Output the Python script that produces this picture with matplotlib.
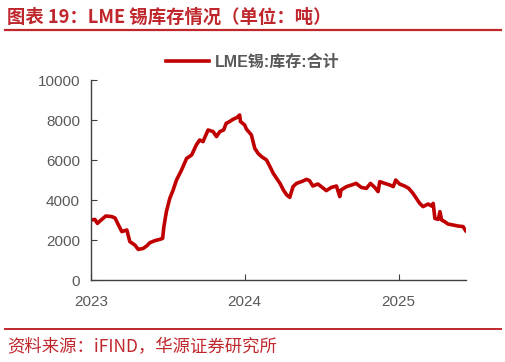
import numpy as np
import pandas as pd
import matplotlib
matplotlib.use("Agg")
import matplotlib.pyplot as plt
import matplotlib.dates as mdates

plt.rcParams['font.family'] = ['Liberation Sans', 'Noto Sans CJK SC', 'DejaVu Sans']

# LME 锡库存（吨），读自图片
fechas = [
    "2023-01-01", "2023-01-10", "2023-01-16", "2023-01-22", "2023-02-05", "2023-02-19",
    "2023-02-27", "2023-03-07", "2023-03-15", "2023-03-27", "2023-04-03", "2023-04-15",
    "2023-04-23", "2023-05-05", "2023-05-13", "2023-05-21", "2023-06-02", "2023-06-13",
    "2023-06-20", "2023-06-23", "2023-06-29", "2023-07-07", "2023-07-15", "2023-07-23",
    "2023-08-04", "2023-08-16", "2023-08-28", "2023-09-08", "2023-09-16", "2023-09-24",
    "2023-10-06", "2023-10-18", "2023-10-26", "2023-11-03", "2023-11-12", "2023-11-18",
    "2023-11-26", "2023-12-04", "2023-12-14", "2023-12-20", "2023-12-22", "2024-01-01",
    "2024-01-05", "2024-01-17", "2024-01-25", "2024-02-02", "2024-02-10", "2024-02-22",
    "2024-03-01", "2024-03-09", "2024-03-17", "2024-03-25", "2024-04-02", "2024-04-10",
    "2024-04-17", "2024-04-25", "2024-05-03", "2024-05-15", "2024-05-27", "2024-06-03",
    "2024-06-11", "2024-06-23", "2024-07-01", "2024-07-13", "2024-07-25", "2024-08-06",
    "2024-08-14", "2024-08-17", "2024-08-30", "2024-09-11", "2024-09-22", "2024-10-04",
    "2024-10-16", "2024-10-26", "2024-11-05", "2024-11-13", "2024-11-17", "2024-11-29",
    "2024-12-11", "2024-12-19", "2024-12-25", "2025-01-03", "2025-01-15", "2025-01-25",
    "2025-02-04", "2025-02-12", "2025-02-20", "2025-02-28", "2025-03-12", "2025-03-20",
    "2025-03-24", "2025-03-28", "2025-04-05", "2025-04-09", "2025-04-13", "2025-04-20",
    "2025-04-28", "2025-05-10", "2025-05-22", "2025-06-03", "2025-06-09",
]
inventario = [
    3000, 3030, 2830, 2950, 3200, 3170,
    3100, 2750, 2420, 2500, 1920, 1750,
    1530, 1580, 1700, 1870, 1970, 2030,
    2080, 2670, 3420, 4080, 4500, 5000,
    5500, 6080, 6250, 6750, 7000, 6920,
    7500, 7420, 7170, 7420, 7500, 7830,
    7920, 8030, 8130, 8250, 7920, 7750,
    7550, 7250, 6580, 6330, 6170, 6000,
    5670, 5330, 5080, 4830, 4500, 4250,
    4130, 4670, 4830, 4920, 5030, 4970,
    4700, 4800, 4670, 4470, 4630, 4700,
    4170, 4500, 4670, 4750, 4830, 4630,
    4580, 4830, 4630, 4420, 4920, 4830,
    4750, 4670, 5000, 4800, 4700, 4580,
    4330, 4080, 3830, 3670, 3800, 3700,
    3830, 3080, 3030, 3420, 3000, 2920,
    2800, 2750, 2700, 2670, 2470,
]
fechas = pd.to_datetime(fechas)

ROJO = "#c0272d"
GRIS = "#595959"

fig = plt.figure(figsize=(5.06, 3.62), dpi=100)
ax = fig.add_axes([0.18, 0.2265, 0.741, 0.5525])

ax.plot(fechas, inventario, color="#c00000", linewidth=2.6,
        solid_joinstyle="round", label="LME锡:库存:合计")

ax.set_ylim(0, 10000)
ax.set_yticks(range(0, 10001, 2000))
ax.set_xlim(pd.Timestamp("2023-01-01"), pd.Timestamp("2025-06-10"))
ax.set_xticks(pd.to_datetime(["2023-01-01", "2024-01-01", "2025-01-01"]))
ax.xaxis.set_major_formatter(mdates.DateFormatter("%Y"))

for lado in ["top", "right"]:
    ax.spines[lado].set_visible(False)
for lado in ["left", "bottom"]:
    ax.spines[lado].set_color("#404040")
    ax.spines[lado].set_linewidth(1.0)
ax.tick_params(axis="y", direction="in", length=4, pad=8, colors="#404040",
               labelcolor=GRIS, labelsize=11)
ax.tick_params(axis="x", direction="in", length=4, pad=11, colors="#404040",
               labelcolor=GRIS, labelsize=11)

leg = fig.legend(loc="center left", bbox_to_anchor=(0.328, 0.829), frameon=False,
                 handlelength=2.7, handletextpad=0.35, borderpad=0, borderaxespad=0,
                 prop={"family": ["Liberation Sans", "Noto Sans CJK SC"],
                       "weight": "bold", "size": 11.5})
for t in leg.get_texts():
    t.set_color(GRIS)

# Título y fuente
fig.text(0.014, 0.953, "图表 19：LME 锡库存情况（单位：吨）", color=ROJO,
         fontsize=13.2, fontweight="bold", va="center", ha="left",
         family=["Noto Sans CJK SC", "DejaVu Sans"])
fig.add_artist(plt.Line2D([0.01, 0.99], [0.917, 0.917], color=ROJO,
                          linewidth=1.6, transform=fig.transFigure))
fig.add_artist(plt.Line2D([0.01, 0.99], [0.091, 0.091], color=ROJO,
                          linewidth=1.4, transform=fig.transFigure))
fig.text(0.014, 0.04, "资料来源：iFIND，华源证券研究所", color=ROJO,
         fontsize=12.5, va="center", ha="left",
         family=["Noto Sans CJK SC", "DejaVu Sans"])

fig.savefig("out.png", dpi=100)
